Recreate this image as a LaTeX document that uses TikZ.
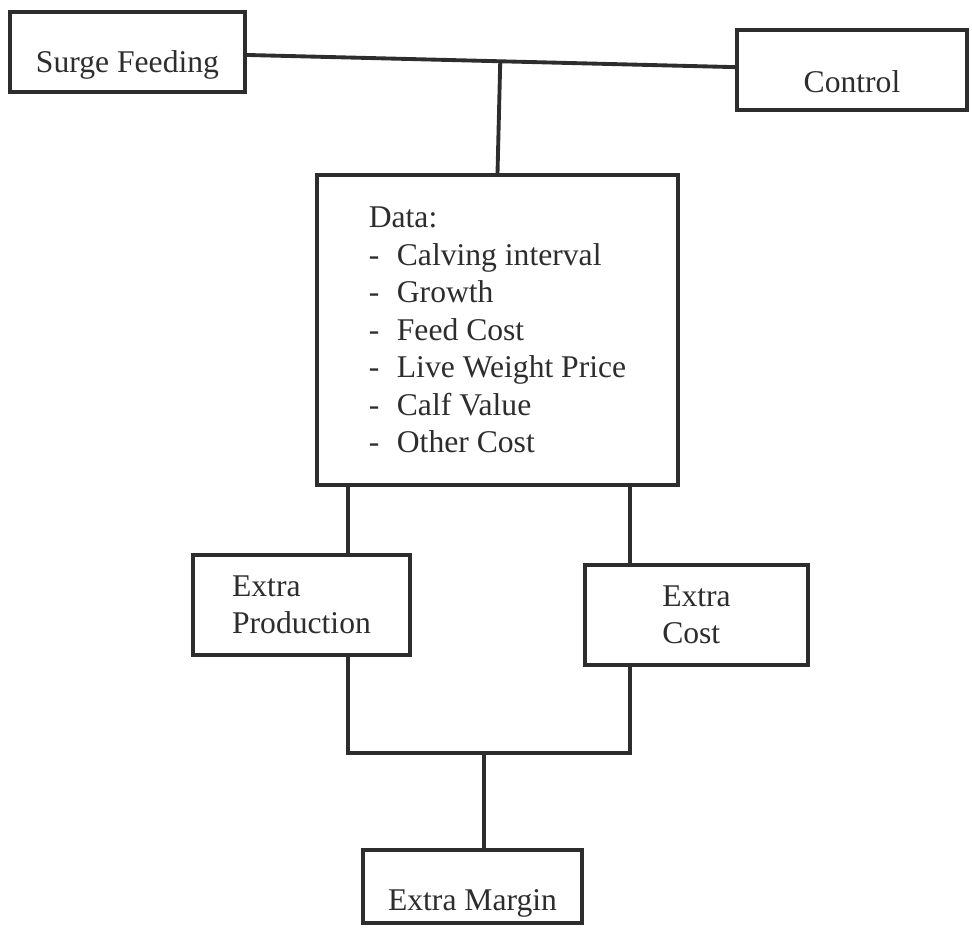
\documentclass[tikz,border=0pt]{standalone}
\usepackage{fontspec}
\setmainfont{Liberation Serif}
\usetikzlibrary{calc}

\begin{document}
\begin{tikzpicture}[x=0.02cm, y=-0.02cm,
  box/.style={draw=ink, line width=2.2pt, inner sep=0pt, text=ink, font=\fontsize{18}{21.3}\selectfont},
  link/.style={draw=ink, line width=2.2pt}]
% Define colors
\definecolor{ink}{RGB}{45,45,45}

% Page frame
\useasboundingbox (0,0) rectangle (972,931);

% Draw treatment boxes
\node[box, anchor=base, minimum width=4.7cm, text height=1.2cm, text depth=0.4cm] (surge) at (127.5,72) {Surge Feeding};
\node[box, anchor=base, minimum width=4.6cm, text height=1.24cm, text depth=0.36cm] (ctrl) at (852,92) {Control};

% Draw data box
\node[box, minimum width=7.22cm, minimum height=6.2cm, align=left] (data) at (497.5,330) {Data:\\
-\hspace{10pt}Calving interval\\
-\hspace{10pt}Growth\\
-\hspace{10pt}Feed Cost\\
-\hspace{10pt}Live Weight Price\\
-\hspace{10pt}Calf Value\\
-\hspace{10pt}Other Cost};

% Draw result boxes
\node[box, minimum width=4.34cm, minimum height=2cm, align=left] (prod) at (301.5,605) {Extra\\Production};
\node[box, minimum width=4.46cm, minimum height=2cm, align=left] (cost) at (696.5,615) {Extra\\Cost};
\node[box, anchor=base, minimum width=4.38cm, text height=1.2cm, text depth=0.26cm] (margin) at (472.5,910) {Extra Margin};

% Top connector
\draw[link] (surge) -- (ctrl);
\draw[link] (data.north) -- ($(surge)!(data.north)!(ctrl)$);

% Lower connectors
\coordinate (dl) at ($(data.south west)+(33,0)$);
\coordinate (dr) at ($(data.south east)+(-50,0)$);
\coordinate (mj) at (484,753);
\draw[link] (dl) -- (dl |- prod.north);
\draw[link] (dr) -- (dr |- cost.north);
\draw[link] (dl |- prod.south) -- (dl |- mj) -- (dr |- mj) -- (dr |- cost.south);
\draw[link] (mj) -- (mj |- margin.north);
\end{tikzpicture}
\end{document}
